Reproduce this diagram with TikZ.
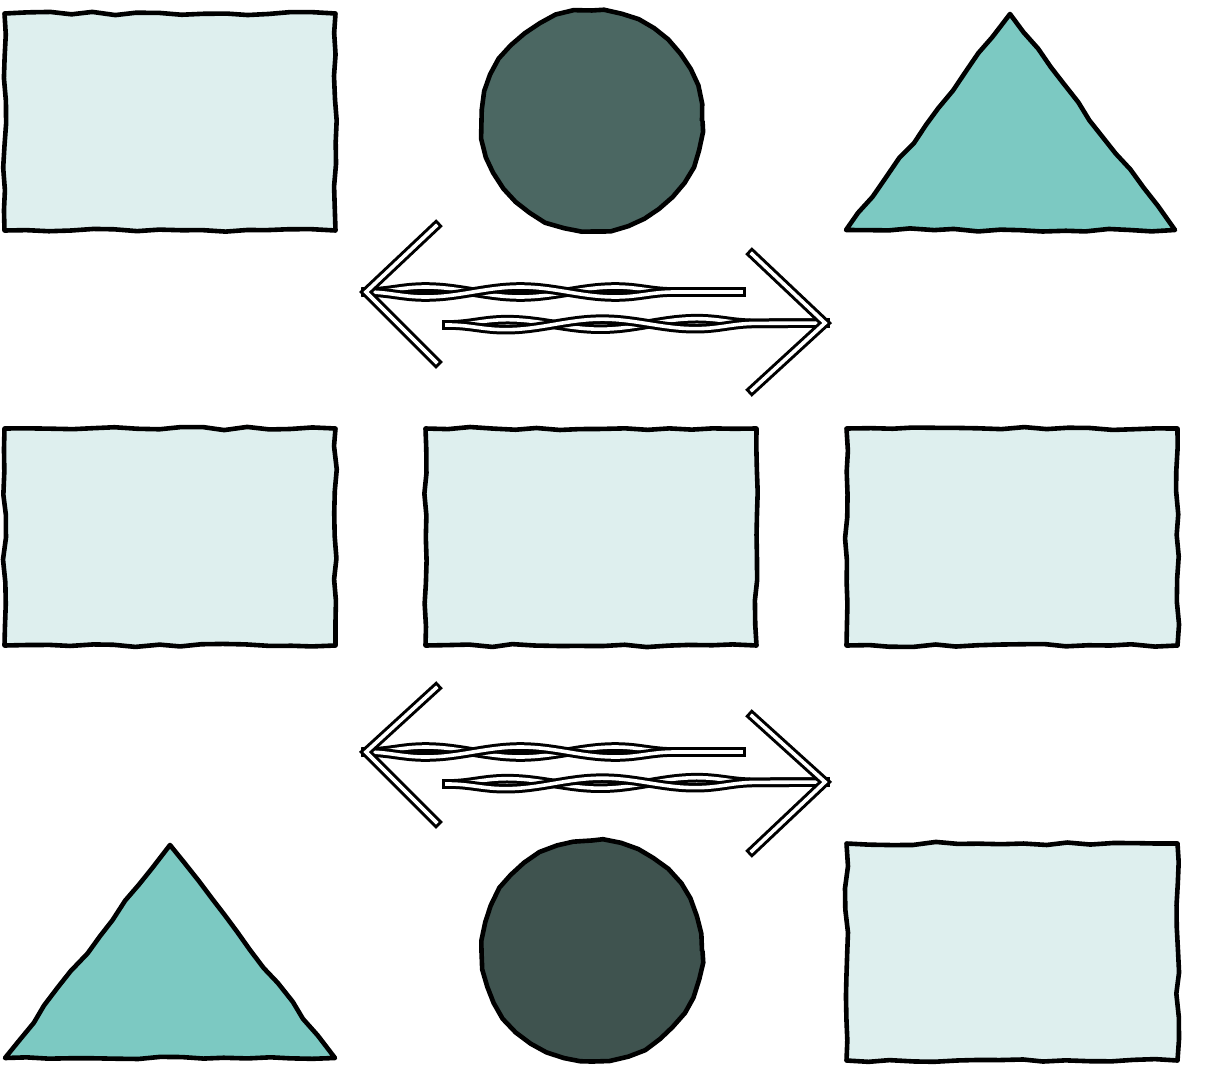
\documentclass[tikz,border=0pt]{standalone}
\usetikzlibrary{decorations.pathmorphing,decorations.pathreplacing}
\definecolor{boxfill}{HTML}{DEEFEE}
\definecolor{balltop}{HTML}{4B6762}
\definecolor{ballbot}{HTML}{3F534F}
\definecolor{trifill}{HTML}{7CC9C2}
\begin{document}
\pgfmathsetseed{7}
\begin{tikzpicture}[x=1pt,y=-1pt,
  wob/.style={decorate, decoration={random steps, segment length=22pt, amplitude=1.6pt}},
  box/.style={draw=black, line width=4.6pt, fill=boxfill, minimum width=331pt, minimum height=217pt, inner sep=0pt, wob, line join=round},
  ball/.style={circle, draw=black, line width=4.6pt, minimum size=220pt, inner sep=0pt, line join=round, decorate, decoration={random steps, segment length=18pt, amplitude=1pt}},
  tri/.style={draw=black, line width=4.6pt, fill=trifill, wob, line join=round},
  dbl/.style={draw=black, line width=3pt, double=white, double distance=3.6pt, line cap=rect, line join=miter},
  strandA/.style={dbl, decorate, decoration={snake, amplitude=5pt, segment length=190pt}},
  strandB/.style={dbl, decorate, decoration={snake, amplitude=5pt, segment length=190pt, mirror}}
]
\useasboundingbox (0,0) rectangle (1209,1075);
\fill[white] (0,0) rectangle (1209,1075);

% top row
\node[box] (tl) at (170,122) {};
\node[ball, fill=balltop] (tc) at (592,121) {};
\coordinate (trA) at (1010,14);
\coordinate (trB) at (846,230);
\coordinate (trC) at (1175,230);
\draw[tri] (trA) -- (trC) -- (trB) -- cycle;

% middle row
\node[box] (ml) at (170,537) {};
\node[box] (mm) at (591,537) {};
\node[box] (mr) at (1012,537) {};

% bottom row
\coordinate (blA) at (170,845);
\coordinate (blB) at (5,1058);
\coordinate (blC) at (335,1058);
\draw[tri] (blA) -- (blC) -- (blB) -- cycle;
\node[ball, fill=ballbot] (bc) at (592,951) {};
\node[box] (br) at (1012,952) {};

% upper double arrows
\coordinate (u1tip) at (366,292);
\coordinate (u1a) at (436,226);
\coordinate (u1b) at (436,362);
\coordinate (u1end) at (741,292);
\draw[strandA] (u1tip) -- (u1end);
\draw[strandB] (u1tip) -- (u1end);
\draw[dbl] (u1a) -- (u1tip) -- (u1b);

\coordinate (u2tip) at (825,323);
\coordinate (u2a) at (752,254);
\coordinate (u2b) at (752,390);
\coordinate (u2end) at (447,325);
\draw[strandA] (u2end) -- (u2tip);
\draw[strandB] (u2end) -- (u2tip);
\draw[dbl] (u2a) -- (u2tip) -- (u2b);

% lower double arrows
\coordinate (l1tip) at (366,752);
\coordinate (l1a) at (436,688);
\coordinate (l1b) at (436,822);
\coordinate (l1end) at (741,752);
\draw[strandA] (l1tip) -- (l1end);
\draw[strandB] (l1tip) -- (l1end);
\draw[dbl] (l1a) -- (l1tip) -- (l1b);

\coordinate (l2tip) at (825,782);
\coordinate (l2a) at (752,716);
\coordinate (l2b) at (752,851);
\coordinate (l2end) at (447,784);
\draw[strandA] (l2end) -- (l2tip);
\draw[strandB] (l2end) -- (l2tip);
\draw[dbl] (l2a) -- (l2tip) -- (l2b);
\end{tikzpicture}
\end{document}
